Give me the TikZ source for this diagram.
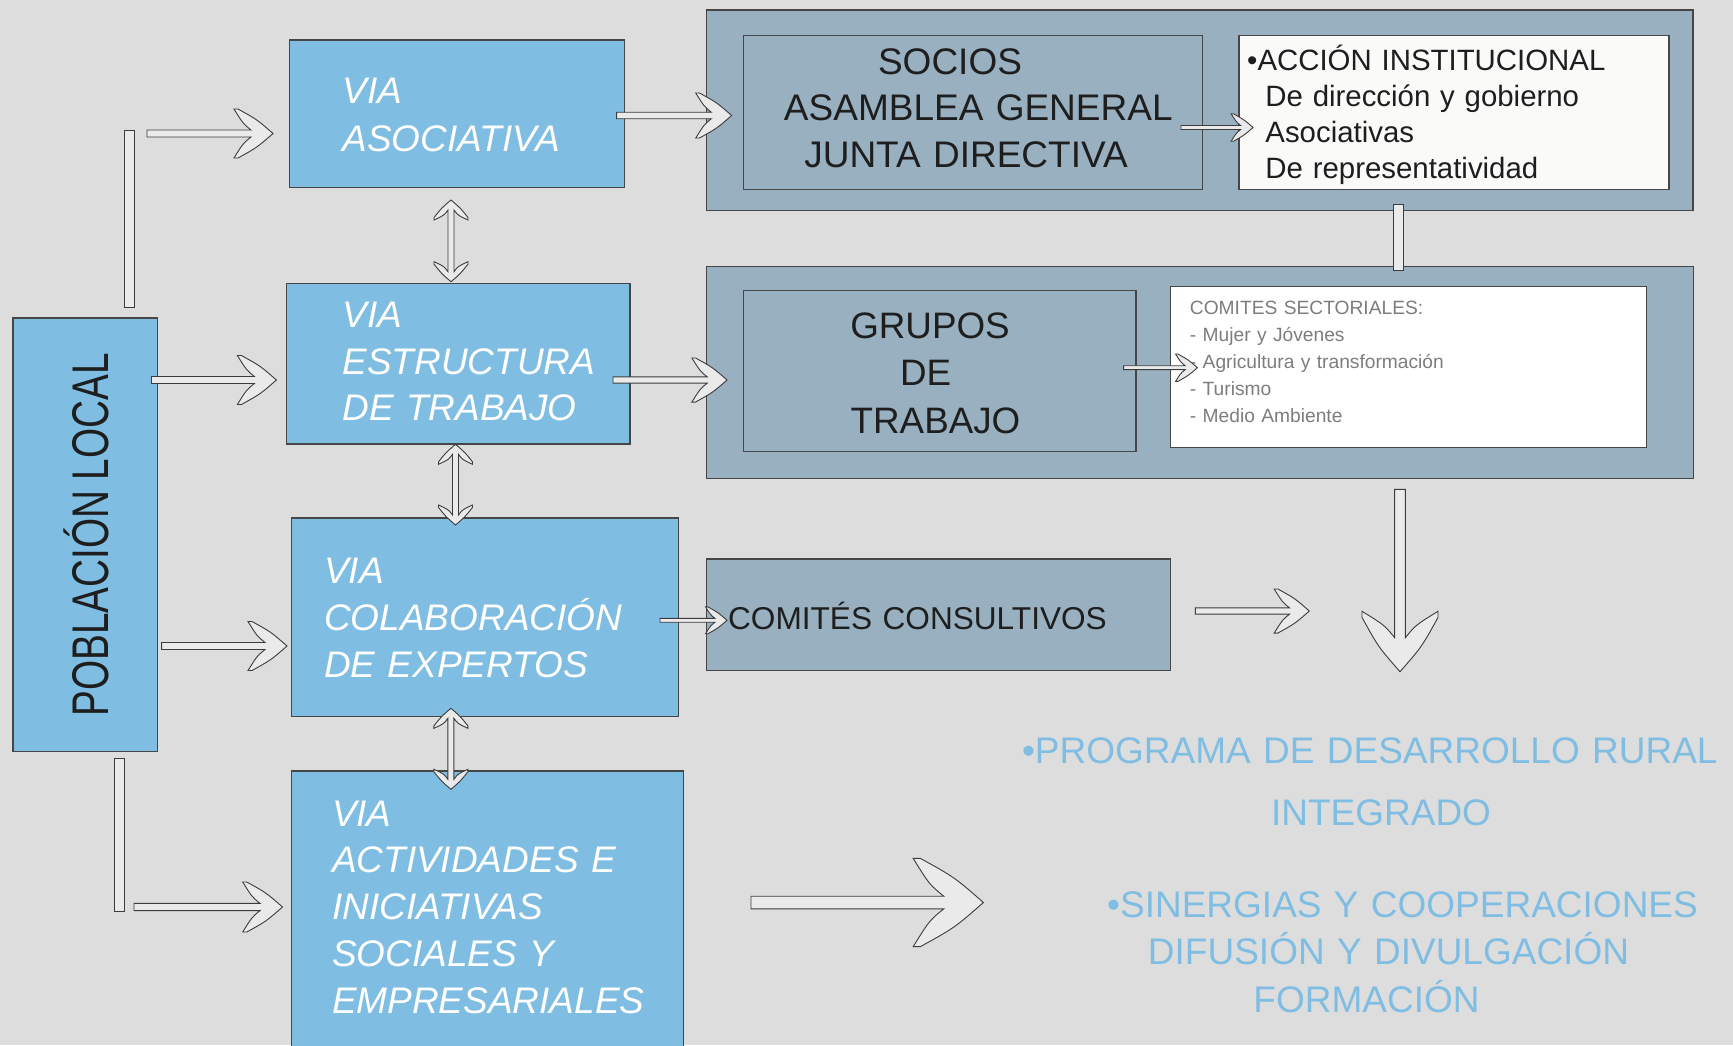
\documentclass[tikz,border=0pt]{standalone}
\usepackage{fontspec}
\setmainfont{Liberation Sans}
\usetikzlibrary{fit,calc}
\definecolor{bgc}{RGB}{221,221,221}
\definecolor{boxblue}{RGB}{127,190,226}
\definecolor{boxgray}{RGB}{152,176,192}
\definecolor{edgec}{RGB}{70,70,70}
\definecolor{darktxt}{RGB}{30,30,30}
\definecolor{graytxt}{RGB}{125,125,125}
\definecolor{arrfill}{RGB}{234,234,234}
\definecolor{arrline}{RGB}{60,60,60}
\newcommand\setfs[2]{\fontsize{#1}{#2}\selectfont}
\tikzset{
  bluebox/.style={draw=edgec, line width=0.6pt, fill=boxblue, inner sep=0pt},
  graybox/.style={draw=edgec, line width=0.6pt, fill=boxgray, inner sep=0pt},
  whitebox/.style={draw=edgec, line width=0.6pt, fill=white, inner sep=0pt},
  blk/.style={draw=arrline, fill=arrfill, line width=0.45pt},
  ltxt/.style={inner sep=0pt, anchor=base west, align=left, text width=#1},
  ctxt/.style={inner sep=0pt, anchor=base, align=center, text width=#1},
  barrow/.style={blk, to path={
    let \p1=(\tikztostart), \p2=(\tikztotarget),
        \n1={atan2(\y2-\y1,\x2-\x1)}, \n2={veclen(\x2-\x1,\y2-\y1)}
    in {[shift={(\p1)}, rotate=\n1]
      (0pt,{1.75pt*#1}) -- ({\n2-11pt*#1},{1.75pt*#1})
      .. controls ({\n2-15pt*#1},{5pt*#1}) .. ({\n2-19.5pt*#1},{12.25pt*#1})
      -- ({\n2-17.5pt*#1},{12.25pt*#1})
      .. controls ({\n2-8pt*#1},{7pt*#1}) .. (\n2,0pt)
      .. controls ({\n2-8pt*#1},{-7pt*#1}) .. ({\n2-17.5pt*#1},{-12.25pt*#1})
      -- ({\n2-19.5pt*#1},{-12.25pt*#1})
      .. controls ({\n2-15pt*#1},{-5pt*#1}) .. ({\n2-11pt*#1},{-1.75pt*#1})
      -- (0pt,{-1.75pt*#1}) -- cycle}
  }},
  dbarrow/.style={blk, to path={
    let \p1=(\tikztostart), \p2=(\tikztotarget),
        \n1={atan2(\y2-\y1,\x2-\x1)}, \n2={veclen(\x2-\x1,\y2-\y1)}
    in {[shift={(\p1)}, rotate=\n1]
      (0pt,0pt) .. controls (4.1pt,4.8pt) .. (8.8pt,8.5pt) -- (10pt,8.5pt)
      .. controls (7.7pt,3.5pt) .. (5pt,1.5pt)
      -- ({\n2-5pt},1.5pt) .. controls ({\n2-7.7pt},3.5pt) .. ({\n2-10pt},8.5pt)
      -- ({\n2-8.8pt},8.5pt) .. controls ({\n2-4.1pt},4.8pt) .. (\n2,0pt)
      .. controls ({\n2-4.1pt},-4.8pt) .. ({\n2-8.8pt},-8.5pt) -- ({\n2-10pt},-8.5pt)
      .. controls ({\n2-7.7pt},-3.5pt) .. ({\n2-5pt},-1.5pt)
      -- (5pt,-1.5pt) .. controls (7.7pt,-3.5pt) .. (10pt,-8.5pt)
      -- (8.8pt,-8.5pt) .. controls (4.1pt,-4.8pt) .. (0pt,0pt) -- cycle}
  }},
}
\begin{document}
\begin{tikzpicture}[x=0.5pt,y=-0.5pt]
\useasboundingbox (0,0) rectangle (1733,1045);
\clip (0,0) rectangle (1733,1045);
\fill[bgc] (0,0) rectangle (1733,1045);

% boxes
\node[bluebox, fit={(13,318) (157.5,751.7)}] (pob) {};
\node[bluebox, fit={(289.3,40) (624.4,187.7)}] (asoc) {};
\node[bluebox, fit={(286.5,283.3) (630,444)}] (estr) {};
\node[bluebox, fit={(291.5,518) (678.6,716.7)}] (colab) {};
\node[bluebox, fit={(291.5,771) (683.7,1070)}] (activ) {};
\node[graybox, fit={(706.6,10) (1693,210.7)}] (outerA) {};
\node[graybox, fit={(743.5,35.7) (1202.6,189.3)}] (socios) {};
\node[whitebox, fill={rgb,255:red,250;green,250;blue,249}, fit={(1238.9,35.7) (1669,189.3)}] (accion) {};
\node[graybox, fit={(706.6,266.7) (1693.4,478.3)}] (outerB) {};
\node[graybox, fit={(743.5,290.7) (1136,451.3)}] (grupos) {};
\node[whitebox, fit={(1170.4,286.7) (1646.6,447.3)}] (comsect) {};
\node[graybox, fit={(706.6,559) (1170.4,670.7)}] (consult) {};

% plain bars
\node[blk, inner sep=0pt, fit={(124,130) (134.5,307.3)}] (barA) {};
\node[blk, inner sep=0pt, fit={(114.8,758.3) (124.4,911.7)}] (barB) {};
\node[blk, inner sep=0pt, fit={(1393.7,204) (1403.6,270)}] (barC) {};

% texts
\node[inner sep=0pt, rotate=90, anchor=base west, font=\setfs{25.8}{30}, text=darktxt] (pobT) at (108,717) {\scalebox{0.75}[1]{POBLACIÓN LOCAL}};
\node[ltxt=200pt, font=\setfs{18.5}{24.2}\itshape, text=white] (asocT) at (342,103.3) {VIA\\ASOCIATIVA};
\node[ltxt=200pt, font=\setfs{18.5}{23.35}\itshape, text=white] (estrT) at (342,327.3) {VIA\\ESTRUCTURA\\DE TRABAJO};
\node[ltxt=200pt, font=\setfs{18.5}{23.6}\itshape, text=white] (colabT) at (323.7,583.3) {VIA\\COLABORACIÓN\\DE EXPERTOS};
\node[ltxt=200pt, font=\setfs{18.5}{23.4}\itshape, text=white] (activT) at (331.6,826) {VIA\\ACTIVIDADES E\\INICIATIVAS\\SOCIALES Y\\EMPRESARIALES};
\node[ctxt=240pt, font=\setfs{18.5}{23.4}, text=darktxt] (sociosT) at (978.3,74) {SOCIOS\rule{28.3pt}{0pt}\\ASAMBLEA GENERAL\\JUNTA DIRECTIVA\rule{12.3pt}{0pt}};
\node[ltxt=220pt, font=\setfs{14.7}{18}, text=darktxt] (accionT) at (1246.8,70) {•ACCIÓN INSTITUCIONAL\\\hspace*{9.1pt}De dirección y gobierno\\\hspace*{9.1pt}Asociativas\\\hspace*{9.1pt}De representatividad};
\node[ctxt=150pt, font=\setfs{18.4}{23.75}, text=darktxt] (grupT) at (930,338.3) {GRUPOS\\DE\rule{4.4pt}{0pt}\\\rule{5.5pt}{0pt}TRABAJO};
\node[ltxt=200pt, font=\setfs{9.6}{13.5}, text=graytxt] (comsectT) at (1189.5,314) {COMITES SECTORIALES:\\- Mujer y Jóvenes\\- Agricultura y transformación\\- Turismo\\- Medio Ambiente};
\node[ltxt=250pt, font=\setfs{15.8}{19}, text=darktxt] (consultT) at (727.7,629) {COMITÉS CONSULTIVOS};
\node[ctxt=400pt, font=\setfs{18.5}{30.85}, text=boxblue] (progT) at (1381,763.3) {•PROGRAMA DE DESARROLLO RURAL\rule{11.2pt}{0pt}\\INTEGRADO};
\node[ctxt=400pt, font=\setfs{18.5}{23.75}, text=boxblue] (sinerT) at (1388.5,917.3) {\rule{14pt}{0pt}•SINERGIAS Y COOPERACIONES\\DIFUSIÓN Y DIVULGACIÓN\\FORMACIÓN\rule{22pt}{0pt}};

% arrow end points
\coordinate (a1s) at (147,133.5);   \coordinate (a1e) at (273,133.5);
\coordinate (a2s) at (151.5,380);   \coordinate (a2e) at (276.4,380);
\coordinate (a3s) at (161.6,646);   \coordinate (a3e) at (287,646);
\coordinate (a4s) at (134,907);     \coordinate (a4e) at (282.5,907);
\coordinate (a5s) at (616.6,115.5); \coordinate (a5e) at (731.6,115.5);
\coordinate (a6s) at (613,380);     \coordinate (a6e) at (727,380);
\coordinate (a7s) at (660,620.3);   \coordinate (a7e) at (727,620.3);
\coordinate (a8s) at (1181,127.5);  \coordinate (a8e) at (1253,127.5);
\coordinate (a9s) at (1123.6,367.7);\coordinate (a9e) at (1197.4,367.7);
\coordinate (a10s) at (1195.4,611); \coordinate (a10e) at (1309.3,611);
\coordinate (a11s) at (751,902.5);  \coordinate (a11e) at (983.4,902.5);
\coordinate (a12s) at (1400,489.3); \coordinate (a12e) at (1400,671.7);
\coordinate (d1s) at (451,200);     \coordinate (d1e) at (451,281.7);
\coordinate (d2s) at (455.5,444.3); \coordinate (d2e) at (455.5,525);
\coordinate (d3s) at (450.9,708.3); \coordinate (d3e) at (450.9,789.3);

\draw[barrow=1] (a1s) to (a1e);
\draw[barrow=1] (a2s) to (a2e);
\draw[barrow=1] (a3s) to (a3e);
\draw[barrow=1.02] (a4s) to (a4e);
\draw[barrow=0.92] (a5s) to (a5e);
\draw[barrow=0.9] (a6s) to (a6e);
\draw[barrow=0.55] (a7s) to (a7e);
\draw[barrow=0.56] (a8s) to (a8e);
\draw[barrow=0.56] (a9s) to (a9e);
\draw[barrow=0.9] (a10s) to (a10e);
\draw[barrow=1.8] (a11s) to (a11e);
\draw[barrow=1.55] (a12s) to (a12e);
\draw[dbarrow] (d1s) to (d1e);
\draw[dbarrow] (d2s) to (d2e);
\draw[dbarrow] (d3s) to (d3e);
\end{tikzpicture}
\end{document}
